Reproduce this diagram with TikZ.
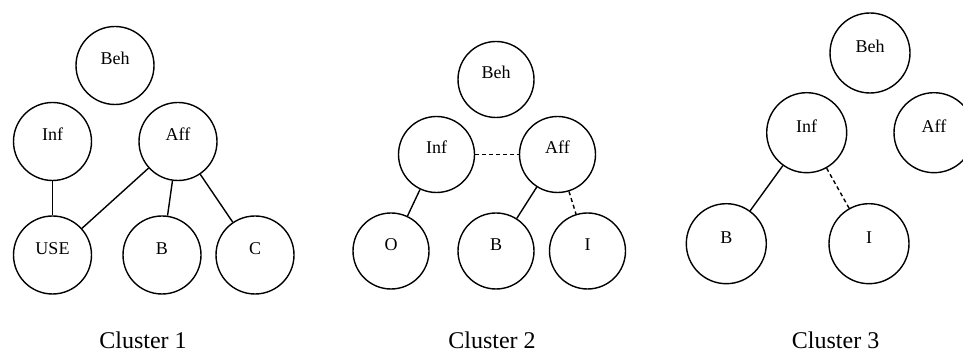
\documentclass[tikz,border=0pt]{standalone}
\usepackage{fontspec}
\setmainfont{Liberation Serif}
\usepackage{tikz}

\begin{document}
\begin{tikzpicture}[x=0.5pt, y=-0.5pt, line width=0.7pt,
    var/.style={draw, circle, inner sep=0pt, minimum size=39pt,
      text height=6pt, text depth=6.6pt, font=\fontsize{9}{10}\selectfont},
    link/.style={line width=0.7pt},
    weak/.style={line width=0.7pt, dash pattern=on 2pt off 1.5pt},
    caption/.style={font=\fontsize{12}{14}\selectfont}]
  \useasboundingbox (0,0) rectangle (963,351);

  % cluster 1
  \node[var] (beh1) at (115,65.5) {Beh};
  \node[var] (inf1) at (52.5,141.5) {Inf};
  \node[var] (aff1) at (178,141.5) {Aff};
  \node[var] (use1) at (52.5,255) {USE};
  \node[var] (b1) at (162,255) {B};
  \node[var] (c1) at (255,255) {C};
  \node[caption] (cap1) at (143,340) {Cluster 1};

  \draw[link] (inf1) to (use1);
  \draw[link] (aff1) to (use1);
  \draw[link] (aff1) to (b1);
  \draw[link] (aff1) to (c1);

  % cluster 2
  \node[var, minimum size=38pt] (beh2) at (496,79.5) {Beh};
  \node[var, minimum size=38pt] (inf2) at (436.5,154.5) {Inf};
  \node[var, minimum size=38pt] (aff2) at (557.5,154.5) {Aff};
  \node[var, minimum size=38pt] (o2) at (391,251) {O};
  \node[var, minimum size=38pt] (b2) at (496,251) {B};
  \node[var, minimum size=38pt] (i2) at (587.5,251) {I};
  \node[caption] (cap2) at (492,340) {Cluster 2};

  \draw[weak] (inf2) to (aff2);
  \draw[link] (inf2) to (o2);
  \draw[link] (aff2) to (b2);
  \draw[weak] (aff2) to (i2);

  % cluster 3
  \node[var, minimum size=40pt] (beh3) at (870,53) {Beh};
  \node[var, minimum size=40pt] (inf3) at (806.7,132.7) {Inf};
  \node[var, minimum size=40pt] (aff3) at (934,132.7) {Aff};
  \node[var, minimum size=40pt] (b3) at (726.3,243.7) {B};
  \node[var, minimum size=40pt] (i3) at (869,243.7) {I};
  \node[caption] (cap3) at (835.6,340) {Cluster 3};

  \draw[link] (inf3) to (b3);
  \draw[weak] (inf3) to (i3);
\end{tikzpicture}
\end{document}
